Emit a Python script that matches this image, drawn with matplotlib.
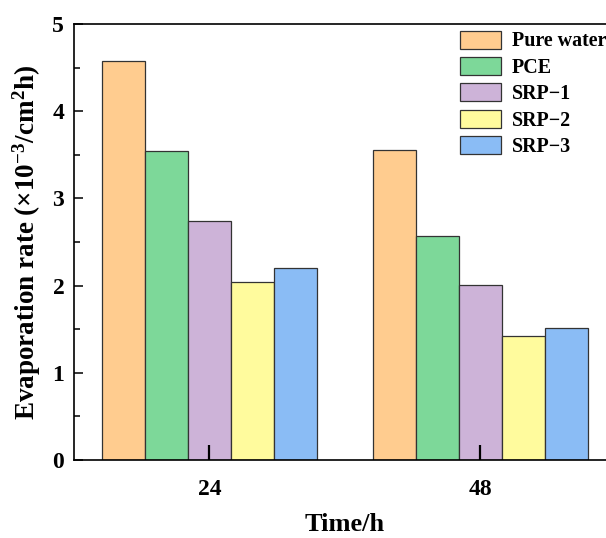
import numpy as np
import matplotlib
matplotlib.use("Agg")
import matplotlib.pyplot as plt
from matplotlib.ticker import MultipleLocator

plt.rcParams["font.family"] = ["Liberation Serif", "DejaVu Serif"]
plt.rcParams["font.weight"] = "bold"
plt.rcParams["axes.labelweight"] = "bold"
plt.rcParams["mathtext.fontset"] = "custom"
plt.rcParams["mathtext.rm"] = "Liberation Serif:bold"
plt.rcParams["mathtext.default"] = "rm"

# evaporation rate, x10^-3 per cm^2 h
times = ["24", "48"]
series = ["Pure water", "PCE", "SRP\u22121", "SRP\u22122", "SRP\u22123"]
pure_water = [4.58, 3.56]
pce = [3.54, 2.57]
srp1 = [2.74, 2.01]
srp2 = [2.04, 1.42]
srp3 = [2.20, 1.51]
colors = ["#FFCC8F", "#7DD899", "#CDB3D8", "#FFFB9D", "#8ABCF5"]

values = [pure_water, pce, srp1, srp2, srp3]

fig = plt.figure(figsize=(6.06, 5.38), dpi=100)
# axes runs a little past the right edge of the canvas
ax = fig.add_axes([0.1221, 0.145, 0.8944, 0.8104])
ax.set_axisbelow(False)

x = np.arange(len(times))
w = 0.159
for i, (name, vals, c) in enumerate(zip(series, values, colors)):
    ax.bar(x + (i - 2) * w, vals, w, color=c, edgecolor="#333333",
           linewidth=0.9, label=name, zorder=1)

ax.set_xlim(-0.5, 1.5)
ax.set_ylim(0, 5)
ax.set_xticks(x)
ax.set_xticklabels(times, fontweight="bold")
ax.yaxis.set_major_locator(MultipleLocator(1))
ax.yaxis.set_minor_locator(MultipleLocator(0.5))
for lab in ax.get_yticklabels():
    lab.set_fontweight("bold")

ax.tick_params(axis="x", direction="in", length=11, width=1.6,
               labelsize=17, pad=14)
ax.tick_params(axis="y", which="major", direction="in", length=6.5,
               width=1.1, labelsize=17, pad=7)
ax.tick_params(axis="y", which="minor", direction="in", length=4, width=1.1)
ax.tick_params(top=False, right=False, which="both")
for s in ax.spines.values():
    s.set_linewidth(1.2)

ax.set_xlabel("Time/h", fontsize=19, fontweight="bold", labelpad=9)
ax.set_ylabel(r"Evaporation rate (×10$^{-3}$/cm$^{2}$h)", fontsize=19.5,
              fontweight="bold", labelpad=7)

ax.legend(loc="upper left", bbox_to_anchor=(0.759, 0.943),
          bbox_transform=fig.transFigure, frameon=False,
          prop={"size": 14.4, "weight": "bold"},
          handlelength=2.05, handleheight=1.0, handletextpad=0.55,
          labelspacing=0.28, borderaxespad=0, borderpad=0)

fig.savefig("out.png", dpi=100)
